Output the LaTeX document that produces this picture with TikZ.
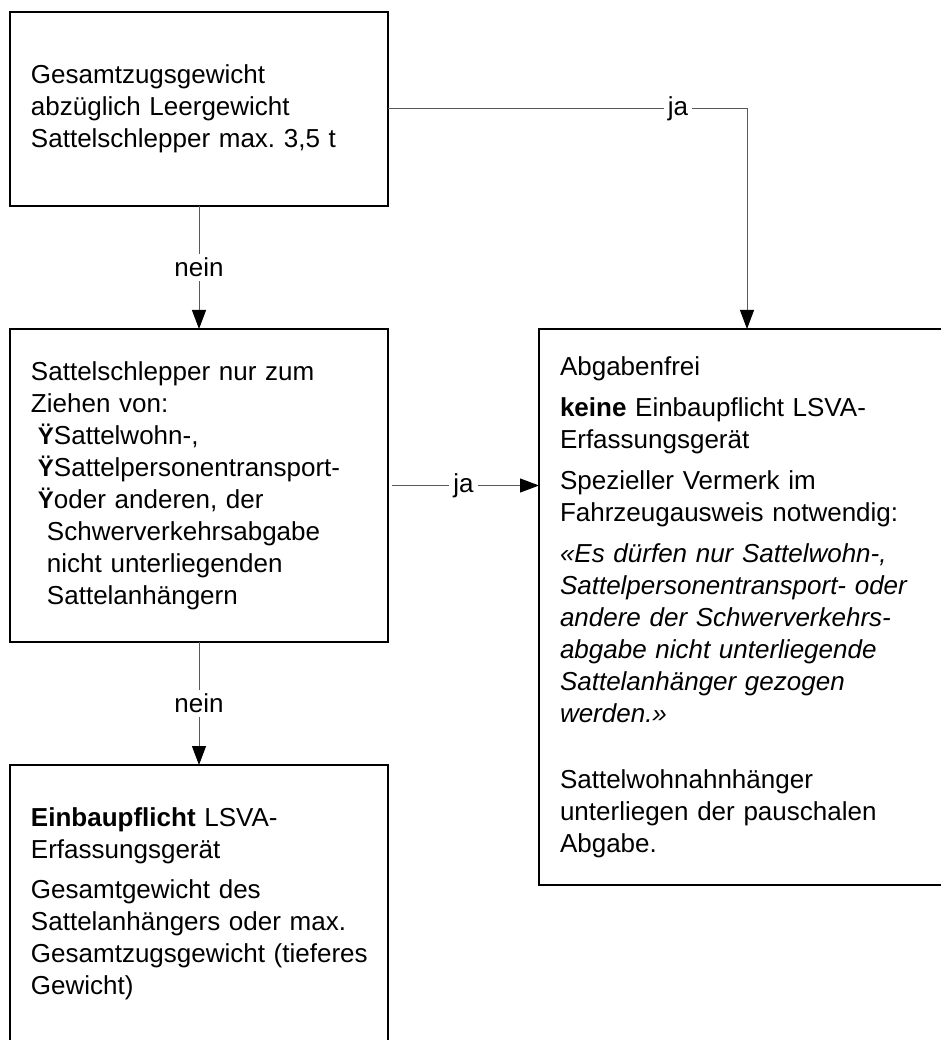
\documentclass[tikz,border=0pt]{standalone}
\usepackage{fontspec}
\setmainfont{Liberation Sans}
\usetikzlibrary{arrows.meta,positioning}

\definecolor{linegray}{gray}{0.35}
\frenchspacing
\newcommand{\bul}{\hspace*{7pt}\makebox[16pt][l]{\fontsize{24}{32}\selectfont\bfseries Ÿ}}
\newcommand{\einzug}{\hspace*{16pt}}

\begin{document}
\begin{tikzpicture}[>={Triangle[width=14pt,length=19pt,color=black]},node distance=123pt,
    box/.style={rectangle,draw,line width=2pt,outer sep=0pt,inner xsep=21pt,inner ysep=0pt,
      text width=336pt,align=left,font=\fontsize{26}{32}\selectfont},
    conn/.style={->,draw=linegray,line width=1pt},
    answer/.style={fill=white,inner sep=4pt,font=\fontsize{26}{32}\selectfont}]

      \useasboundingbox (-199pt,109pt) rectangle ++(941pt,-1040pt);

      \node[box,minimum height=194pt] (frage1) {Gesamtzugsgewicht\\abzüglich Leergewicht\\Sattelschlepper max. 3,5 t};
      \node[box,minimum height=313pt] (frage2) [below=of frage1] {Sattelschlepper nur zum\\Ziehen von:\\\bul Sattelwohn-,\\\bul Sattelpersonentransport-\\\bul oder anderen, der\\\einzug Schwerverkehrsabgabe\\\einzug nicht unterliegenden\\\einzug Sattelanhängern};
      \node[box,minimum height=278pt] (pflicht) [below=of frage2] {\textbf{Einbaupflicht} LSVA-\\Erfassungsgerät\\[8pt]Gesamtgewicht des\\Sattelanhängers oder max.\\\mbox{Gesamtzugsgewicht (tieferes}\\Gewicht)};
      \node[box,text width=374pt,minimum height=556pt,right=151pt of frage2.north east,anchor=north west] (frei) {Abgabenfrei\\[9pt]\textbf{keine} Einbaupflicht LSVA-\\Erfassungsgerät\\[9pt]Spezieller Vermerk im\\Fahrzeugausweis notwendig:\\[9pt]{\itshape «Es dürfen nur Sattelwohn-,\\Sattelpersonentransport- oder\\andere der Schwerverkehrs-\\abgabe nicht unterliegende\\Sattelanhänger gezogen\\werden.»}\\[34pt]Sattelwohnahnhänger\\unterliegen der pauschalen\\Abgabe.};

      \draw[conn] (frage1) -- node[answer] {nein} (frage2);
      \draw[conn] (frage2) -- node[answer] {nein} (pflicht);
      \draw[conn] (frage1) -| node[answer,pos=0.404] {ja} (frei);
      \draw[conn,shorten <=4pt] (frage2) -- node[answer] {ja} (frei.west |- frage2);
\end{tikzpicture}
\end{document}
